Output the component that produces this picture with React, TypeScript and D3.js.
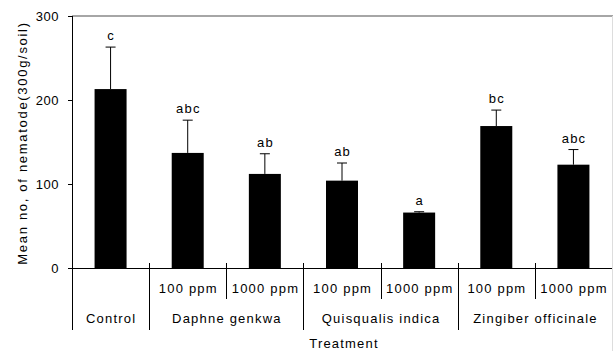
import React from "react";
import * as d3 from "d3";

const categories = ["Control", "D100", "D1000", "Q100", "Q1000", "Z100", "Z1000"];
const means = [213, 137, 112, 104, 66, 169, 123];
const errTops = [263, 176, 136, 125, 67, 188, 141];
const letters = ["c", "abc", "ab", "ab", "a", "bc", "abc"];
const doseLabels = ["", "100 ppm", "1000 ppm", "100 ppm", "1000 ppm", "100 ppm", "1000 ppm"];
const groups = [
  { name: "Control", span: 1 },
  { name: "Daphne genkwa", span: 2 },
  { name: "Quisqualis indica", span: 2 },
  { name: "Zingiber officinale", span: 2 },
];
const yTicks = [0, 100, 200, 300];

const W = 613, H = 351;
const left = 72, right = 612, top = 16, zeroY = 268;

export default function App() {
  const x = d3.scaleBand<string>().domain(categories).range([left, right]).paddingInner(0).paddingOuter(0);
  const y = d3.scaleLinear().domain([0, 300]).range([zeroY, top]);
  const bw = 32;
  const font = "'Liberation Sans', Arial, sans-serif";
  const fs = 13;
  const ls = 1.2;

  let acc = 0;
  const groupPos = groups.map((g) => {
    const start = acc;
    acc += g.span;
    return { ...g, start, end: acc };
  });
  const xAt = (i: number) => left + i * x.bandwidth();

  return (
    <svg width={W} height={H} style={{ position: "absolute", left: 0, top: 0 }} fontFamily={font}>
      <rect x={0} y={0} width={W} height={H} fill="#fff" />
      <line x1={left} x2={right + 1} y1={top} y2={top} stroke="#888" strokeWidth={1.5} />
      <line x1={right + 0.5} x2={right + 0.5} y1={top} y2={H} stroke="#ddd" strokeWidth={1} />
      <line x1={left + 0.5} x2={left + 0.5} y1={top} y2={330} stroke="#000" />
      {yTicks.map((t) => (
        <g key={t}>
          <line x1={left - 4} x2={left} y1={Math.round(y(t)) + 0.5} y2={Math.round(y(t)) + 0.5} stroke="#000" />
          <text x={left - 13} y={y(t)} dy="0.35em" textAnchor="end" fontSize={fs} letterSpacing={0.5} fill="#000">{t}</text>
        </g>
      ))}
      <text transform={`translate(22,${(top + zeroY) / 2 + 1}) rotate(-90)`} textAnchor="middle" fontSize={fs} letterSpacing={1.7} fill="#000" dy="0.35em">
        Mean no, of nematode(300g/soil)
      </text>
      {categories.map((c, i) => {
        const cx = (x(c) as number) + x.bandwidth() / 2;
        return (
          <g key={c}>
            <line x1={cx} x2={cx} y1={y(errTops[i])} y2={y(means[i])} stroke="#000" />
            <line x1={cx - 5} x2={cx + 5} y1={y(errTops[i])} y2={y(errTops[i])} stroke="#000" />
            <rect x={cx - bw / 2} y={y(means[i])} width={bw} height={zeroY - y(means[i])} fill="#000" />
            <text x={cx + ls / 2} y={y(errTops[i]) - 7} textAnchor="middle" fontSize={fs} letterSpacing={ls} fill="#000">{letters[i]}</text>
            {doseLabels[i] && (
              <text x={cx + ls / 2} y={288} dy="0.35em" textAnchor="middle" fontSize={fs} letterSpacing={ls} fill="#000">{doseLabels[i]}</text>
            )}
          </g>
        );
      })}
      <line x1={left} x2={right} y1={zeroY + 0.5} y2={zeroY + 0.5} stroke="#000" />
      {groupPos.map((g) => (
        <g key={g.name}>
          {g.end < categories.length && (
            <line x1={Math.round(xAt(g.end)) + 0.5} x2={Math.round(xAt(g.end)) + 0.5} y1={263} y2={330} stroke="#000" />
          )}
          {g.span === 2 && (
            <line x1={Math.round(xAt(g.start + 1)) + 0.5} x2={Math.round(xAt(g.start + 1)) + 0.5} y1={263} y2={299} stroke="#000" />
          )}
          <text x={(xAt(g.start) + xAt(g.end)) / 2 + ls / 2} y={318} dy="0.35em" textAnchor="middle" fontSize={fs} letterSpacing={ls} fill="#000">{g.name}</text>
        </g>
      ))}
      <text x={(left + right) / 2 + 2} y={343} dy="0.35em" textAnchor="middle" fontSize={fs} letterSpacing={ls} fill="#000">Treatment</text>
    </svg>
  );
}
